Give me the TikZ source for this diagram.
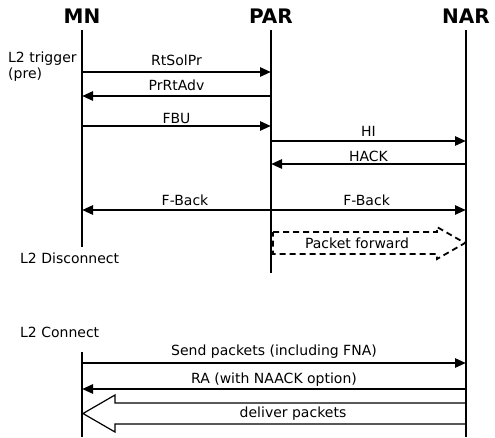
\documentclass[tikz,border=0pt]{standalone}
\usepackage{fontspec}
\setmainfont{DejaVu Sans}
\usetikzlibrary{positioning}
\usetikzlibrary{arrows.meta}

\begin{document}
\begin{tikzpicture}[x=1pt,y=-1pt,
  life/.style={line width=1.2pt},
  msg/.style={line width=2.6pt,-{Triangle[length=11pt,width=9pt]}},
  lbl/.style={above=4pt,inner sep=0pt,text depth=0pt,font=\fontsize{14}{16}\selectfont},
  head/.style={inner sep=0pt,font=\fontsize{20}{24}\selectfont\bfseries},
  txt/.style={inner sep=0pt,font=\fontsize{14}{16}\selectfont}]

\useasboundingbox (0,0) rectangle (495,437);

% nodes
{
\node[head] (MN) at (82,16) {MN};
\node[head] (PAR) at (271,16) {PAR};
\node[head] (NAR) at (466,16) {NAR};

\node[txt,anchor=north west,align=left] (trig) at (8,52) {L2 trigger\\(pre)};
\node[txt,anchor=west] (disc) at (20,258) {L2 Disconnect};
\node[txt,anchor=west] (conn) at (20,332) {L2 Connect};
}

% lifelines
{
\coordinate (mn) at (82,30);
\coordinate (par) at (271,30);
\coordinate (nar) at (466,30);

\draw[life] (mn) -- (mn |- 0,247);
\draw[life] (mn |- 0,352) -- (mn |- 0,437);
\draw[life] (par) -- (par |- 0,273);
\draw[life] (nar) -- (nar |- 0,437);
}

% messages
{
\draw[msg] (mn |- 0,72) -- node[lbl,above=5pt] {RtSolPr} (par |- 0,72);
\draw[msg] (par |- 0,96) -- node[lbl] {PrRtAdv} (mn |- 0,96);
\draw[msg] (mn |- 0,126) -- node[lbl,above=1pt] {FBU} (par |- 0,126);
\draw[msg] (par |- 0,141) -- node[lbl,above=3pt] {HI} (nar |- 0,141);
\draw[msg] (nar |- 0,164) -- node[lbl,above=1pt] {HACK} (par |- 0,164);

\draw[msg] (par |- 0,210) -- node[lbl,above=3pt,pos=0.455] {F-Back} (mn |- 0,210);
\draw[msg] (par |- 0,210) -- node[lbl,above=3pt,pos=0.49] {F-Back} (nar |- 0,210);

\draw[msg] (mn |- 0,363) -- node[lbl,above=6pt] {Send packets (including FNA)} (nar |- 0,363);
\draw[msg] (nar |- 0,389) -- node[lbl] {RA (with NAACK option)} (mn |- 0,389);
}

% big arrows
{
\draw[line width=1.8pt, dash pattern=on 6pt off 4pt] (273,232) -- (437,232) -- (437,227) -- (465,243) -- (437,259) -- (437,254) -- (273,254) -- cycle;
\node[txt] (fwd) at (357,243) {Packet forward};

\draw[line width=1.2pt, fill=white] (466,403) -- (115,403) -- (115,395) -- (83,413.5) -- (115,432) -- (115,424) -- (466,424) -- cycle;
\draw[line width=2.2pt] (466,403) -- (466,424);
\node[txt] (dlv) at (293,413.5) {deliver packets};
}

\end{tikzpicture}
\end{document}
